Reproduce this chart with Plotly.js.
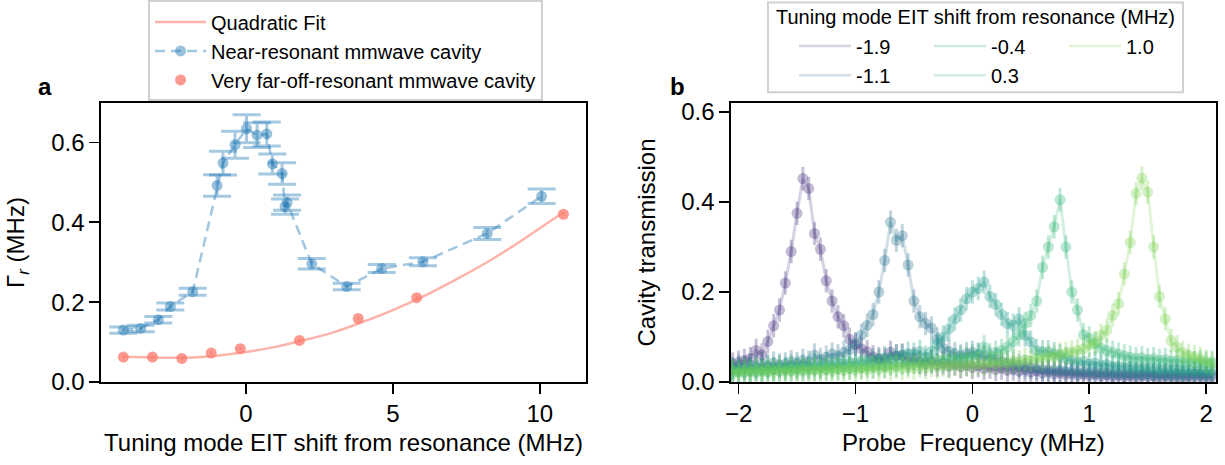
<!DOCTYPE html>
<html>
<head>
<meta charset="utf-8">
<script src="https://cdn.plot.ly/plotly-3.0.1.min.js"></script>
<style>html,body{margin:0;padding:0;background:#fff;}#chart{width:1225px;height:465px;}</style>
</head>
<body>
<div id="chart"></div>
<script>
// ---------- Panel a data ----------
const nearX   = [-4.17, -3.58, -2.98, -2.57, -1.81, -0.98, -0.78, -0.37, 0.02, 0.38, 0.71, 0.90, 1.23, 1.33, 1.40, 2.24, 3.43, 4.62, 6.02, 8.21, 10.06];
const nearY   = [0.130, 0.134, 0.156, 0.189, 0.226, 0.492, 0.548, 0.594, 0.634, 0.618, 0.621, 0.546, 0.522, 0.439, 0.449, 0.296, 0.239, 0.284, 0.301, 0.372, 0.465];
const nearErr = [0.008, 0.008, 0.008, 0.009, 0.009, 0.027, 0.030, 0.034, 0.035, 0.031, 0.030, 0.025, 0.027, 0.019, 0.019, 0.013, 0.008, 0.010, 0.010, 0.015, 0.018];

const farX = [-4.17, -3.18, -2.18, -1.18, -0.19, 1.82, 3.82, 5.81, 10.80];
const farY = [0.0625, 0.0625, 0.059, 0.0725, 0.0835, 0.104, 0.159, 0.211, 0.420];

const fitX = [-4.17, -3, -2, -1, 0, 1, 2, 3, 4, 5, 6, 7, 8, 9, 10, 10.8];
const fitY = [0.063, 0.061, 0.061, 0.066, 0.075, 0.088, 0.105, 0.125, 0.151, 0.180, 0.213, 0.251, 0.291, 0.336, 0.385, 0.425];

// ---------- Panel b data ----------
const probeMHz = [-2.05,-2.00,-1.95,-1.90,-1.85,-1.80,-1.75,-1.70,-1.65,-1.60,
  -1.55,-1.50,-1.45,-1.40,-1.35,-1.30,-1.25,-1.20,-1.15,-1.10,
  -1.05,-1.00,-0.95,-0.90,-0.85,-0.80,-0.75,-0.70,-0.65,-0.60,
  -0.55,-0.50,-0.45,-0.40,-0.35,-0.30,-0.25,-0.20,-0.15,-0.10,
  -0.05,0.00,0.05,0.10,0.15,0.20,0.25,0.30,0.35,0.40,
  0.45,0.50,0.55,0.60,0.65,0.70,0.75,0.80,0.85,0.90,
  0.95,1.00,1.05,1.10,1.15,1.20,1.25,1.30,1.35,1.40,
  1.45,1.50,1.55,1.60,1.65,1.70,1.75,1.80,1.85,1.90,
  1.95,2.00,2.05];

const shiftLabels = ['-1.9', '-1.1', '-0.4', '0.3', '1.0'];
const legendTitleB = 'Tuning mode EIT shift from resonance (MHz)';

const transM19 = [0.040,0.044,0.048,0.052,0.070,0.060,0.090,0.125,0.160,0.220,
  0.290,0.375,0.452,0.430,0.330,0.295,0.225,0.180,0.145,0.125,
  0.095,0.083,0.074,0.067,0.056,0.052,0.050,0.066,0.058,0.059,
  0.046,0.052,0.044,0.040,0.046,0.038,0.042,0.036,0.040,0.034,
  0.038,0.032,0.036,0.030,0.033,0.028,0.031,0.026,0.029,0.024,
  0.027,0.022,0.025,0.020,0.023,0.018,0.021,0.017,0.019,0.015,
  0.018,0.014,0.017,0.013,0.016,0.012,0.015,0.012,0.014,0.011,
  0.014,0.012,0.013,0.010,0.013,0.011,0.012,0.010,0.012,0.011,
  0.013,0.010,0.012];
const transM11 = [0.030,0.035,0.032,0.038,0.034,0.040,0.036,0.042,0.038,0.040,
  0.045,0.041,0.048,0.044,0.060,0.050,0.055,0.062,0.058,0.066,
  0.072,0.085,0.104,0.126,0.150,0.200,0.270,0.355,0.315,0.325,
  0.260,0.180,0.145,0.130,0.120,0.095,0.075,0.068,0.063,0.058,
  0.063,0.066,0.060,0.057,0.052,0.050,0.046,0.042,0.040,0.036,
  0.034,0.032,0.030,0.028,0.027,0.025,0.026,0.023,0.024,0.021,
  0.022,0.020,0.021,0.019,0.020,0.018,0.019,0.017,0.019,0.018,
  0.017,0.019,0.016,0.018,0.017,0.016,0.018,0.017,0.016,0.018,
  0.017,0.016,0.018];
const transM04 = [0.028,0.024,0.030,0.026,0.031,0.027,0.033,0.029,0.034,0.030,
  0.035,0.032,0.036,0.034,0.038,0.035,0.040,0.037,0.042,0.040,
  0.044,0.042,0.047,0.045,0.050,0.048,0.054,0.052,0.058,0.060,
  0.064,0.062,0.068,0.055,0.068,0.085,0.100,0.118,0.140,0.160,
  0.185,0.200,0.208,0.222,0.190,0.172,0.150,0.130,0.126,0.140,
  0.104,0.089,0.070,0.067,0.067,0.063,0.058,0.052,0.048,0.044,
  0.046,0.040,0.042,0.037,0.039,0.034,0.036,0.032,0.034,0.030,
  0.032,0.029,0.031,0.027,0.029,0.026,0.028,0.025,0.027,0.024,
  0.026,0.023,0.025];
const transP03 = [0.020,0.024,0.021,0.025,0.022,0.026,0.023,0.027,0.024,0.028,
  0.025,0.029,0.026,0.030,0.027,0.031,0.028,0.032,0.029,0.033,
  0.031,0.035,0.032,0.036,0.034,0.038,0.035,0.040,0.037,0.042,
  0.040,0.044,0.042,0.047,0.045,0.050,0.048,0.052,0.050,0.055,
  0.053,0.058,0.062,0.078,0.060,0.066,0.070,0.078,0.090,0.105,
  0.130,0.148,0.180,0.255,0.300,0.345,0.405,0.300,0.200,0.160,
  0.105,0.098,0.085,0.075,0.070,0.066,0.062,0.058,0.055,0.052,
  0.054,0.050,0.052,0.048,0.050,0.046,0.048,0.044,0.046,0.043,
  0.045,0.042,0.044];
const transP10 = [0.025,0.020,0.026,0.021,0.027,0.022,0.027,0.022,0.028,0.023,
  0.028,0.023,0.029,0.024,0.029,0.024,0.030,0.025,0.030,0.026,
  0.031,0.026,0.031,0.027,0.032,0.028,0.033,0.029,0.034,0.030,
  0.035,0.031,0.036,0.032,0.037,0.033,0.038,0.034,0.039,0.035,
  0.040,0.036,0.041,0.038,0.043,0.040,0.045,0.042,0.047,0.045,
  0.050,0.048,0.053,0.052,0.058,0.056,0.062,0.064,0.067,0.070,
  0.074,0.082,0.088,0.104,0.115,0.148,0.174,0.240,0.310,0.419,
  0.453,0.422,0.300,0.190,0.140,0.092,0.078,0.065,0.059,0.056,
  0.052,0.046,0.041];

const seriesB = [transM19, transM11, transM04, transP03, transP10];
const seriesRGB = ['70,50,126', '44,114,142', '31,154,138', '53,183,121', '122,209,81'];
const legendRow = ['legend2', 'legend3', 'legend2', 'legend3', 'legend2'];

// ---------- traces ----------
const traces = [];
traces.push({
  x: fitX, y: fitY, type: 'scatter', mode: 'lines', line: {color: 'rgba(250,128,114,0.6)', width: 2.5, shape: 'spline'},
  name: 'Quadratic Fit', xaxis: 'x', yaxis: 'y', hoverinfo: 'skip'
});
traces.push({
  x: nearX, y: nearY, type: 'scatter', mode: 'lines+markers',
  line: {color: 'rgba(31,119,180,0.42)', width: 2.5, dash: '10px,6px'},
  marker: {color: 'rgba(31,119,180,0.45)', size: 11},
  error_y: {type: 'data', array: nearErr, visible: true, color: 'rgba(31,119,180,0.4)', thickness: 3, width: 14},
  name: 'Near-resonant mmwave cavity', xaxis: 'x', yaxis: 'y'
});
traces.push({
  x: farX, y: farY, type: 'scatter', mode: 'markers',
  marker: {color: 'rgba(250,128,114,0.8)', size: 11},
  error_y: {type: 'constant', value: 0.004, visible: true, color: 'rgba(250,128,114,0.8)', thickness: 2, width: 0},
  name: 'Very far-off-resonant mmwave cavity', xaxis: 'x', yaxis: 'y'
});

seriesB.forEach((ys, i) => {
  const c = seriesRGB[i];
  traces.push({
    x: probeMHz, y: ys, type: 'scatter', mode: 'lines+markers',
    line: {color: 'rgba(' + c + ',0.22)', width: 3},
    marker: {color: 'rgba(' + c + ',0.33)', size: 11},
    error_y: {type: 'constant', value: 0.026, visible: true, color: 'rgba(' + c + ',0.3)', thickness: 3, width: 0},
    showlegend: false, xaxis: 'x2', yaxis: 'y2', hoverinfo: 'skip'
  });
});
seriesB.forEach((ys, i) => {
  const c = seriesRGB[i];
  traces.push({
    x: [null], y: [null], type: 'scatter', mode: 'lines',
    line: {color: 'rgba(' + c + ',0.22)', width: 2.5},
    name: shiftLabels[i], legend: legendRow[i],
    xaxis: 'x2', yaxis: 'y2', hoverinfo: 'skip'
  });
});

const axisCommon = {
  showgrid: false, zeroline: false, ticks: 'outside', ticklen: 10, tickwidth: 1.6, tickcolor: 'black',
  linecolor: 'black', linewidth: 1.6, mirror: true, tickfont: {size: 24, color: 'black'}
};

const rowLegend = {
  orientation: 'h', xanchor: 'left', yanchor: 'top',
  bgcolor: 'rgba(0,0,0,0)', borderwidth: 0,
  font: {size: 20, color: 'black'}, itemwidth: 52,
  entrywidth: 68, entrywidthmode: 'pixels'
};

const layout = {
  width: 1225, height: 465,
  margin: {l: 101, r: 9, t: 103, b: 83, autoexpand: false},
  paper_bgcolor: 'white', plot_bgcolor: 'white',
  font: {family: 'Liberation Sans, Arial, sans-serif', size: 24, color: 'black'},
  xaxis: Object.assign({}, axisCommon, {
    domain: [0, 0.435], range: [-4.93, 11.57], tickvals: [0, 5, 10], anchor: 'y',
    title: {text: 'Tuning mode EIT shift from resonance (MHz)', standoff: 8, font: {size: 24}}
  }),
  yaxis: Object.assign({}, axisCommon, {
    domain: [0, 1], range: [0, 0.6985], tickvals: [0, 0.2, 0.4, 0.6], tickformat: '.1f', anchor: 'x',
    title: {text: 'Γ<sub><i>r</i></sub> (MHz)', standoff: 20, font: {size: 24}}
  }),
  xaxis2: Object.assign({}, axisCommon, {
    domain: [0.565, 1], range: [-2.065, 2.084], tickvals: [-2, -1, 0, 1, 2], anchor: 'y2',
    title: {text: 'Probe\u00a0 Frequency (MHz)', standoff: 8, font: {size: 24}}
  }),
  yaxis2: Object.assign({}, axisCommon, {
    domain: [0, 1], range: [0, 0.62], tickvals: [0, 0.2, 0.4, 0.6], tickformat: '.1f', anchor: 'x2',
    title: {text: 'Cavity transmission', standoff: 19, font: {size: 24}}
  }),
  legend: {
    x: 0.0422, y: 1.3675, xanchor: 'left', yanchor: 'top', orientation: 'v',
    bgcolor: 'white', bordercolor: '#d0d0d0', borderwidth: 2,
    font: {size: 20, color: 'black'}, itemwidth: 51, tracegroupgap: 0
  },
  legend2: Object.assign({}, rowLegend, {x: 0.6215, y: 1.2744}),
  legend3: Object.assign({}, rowLegend, {x: 0.6215, y: 1.1693}),
  shapes: [
    {type: 'rect', xref: 'paper', yref: 'paper', x0: 0.5982, x1: 0.9704, y0: 1.0383, y1: 1.3603,
     line: {color: '#d0d0d0', width: 2}, fillcolor: 'rgba(255,255,255,0)', layer: 'above'}
  ],
  annotations: [
    {text: '<b>a</b>', x: -0.0502, y: 1.058, xref: 'paper', yref: 'paper', showarrow: false, font: {size: 24}, xanchor: 'center', yanchor: 'middle'},
    {text: '<b>b</b>', x: 0.5166, y: 1.058, xref: 'paper', yref: 'paper', showarrow: false, font: {size: 24}, xanchor: 'center', yanchor: 'middle'},
    {text: legendTitleB, x: 0.7839, y: 1.3066, xref: 'paper', yref: 'paper', showarrow: false, font: {size: 20}, xanchor: 'center', yanchor: 'middle'}
  ],
  showlegend: true
};

Plotly.newPlot('chart', traces, layout, {staticPlot: true, displayModeBar: false});
</script>
</body>
</html>
